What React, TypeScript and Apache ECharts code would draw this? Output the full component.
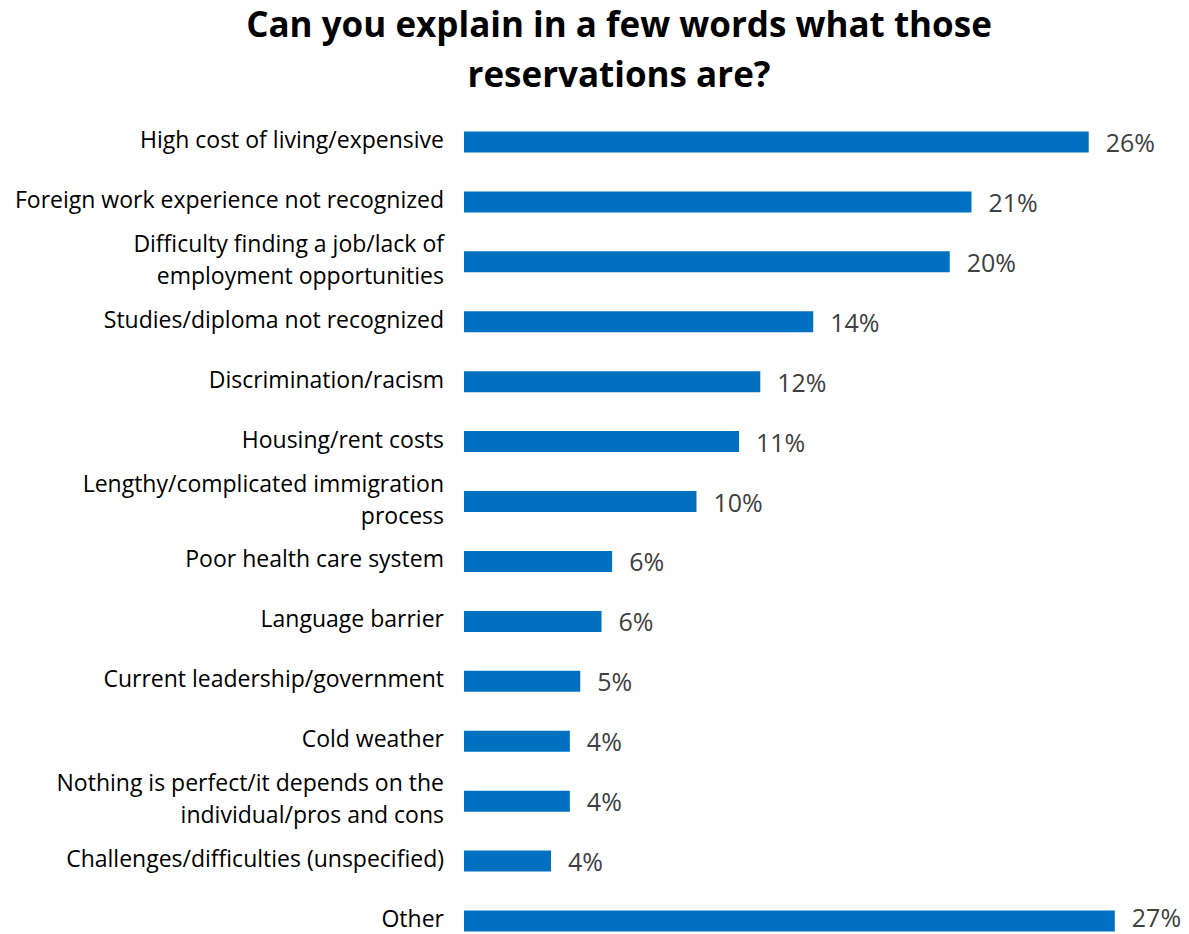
import React, { useEffect, useRef } from "react";
import * as echarts from "echarts";

const categories = [
  "High cost of living/expensive",
  "Foreign work experience not recognized",
  "Difficulty finding a job/lack of\nemployment opportunities",
  "Studies/diploma not recognized",
  "Discrimination/racism",
  "Housing/rent costs",
  "Lengthy/complicated immigration\nprocess",
  "Poor health care system",
  "Language barrier",
  "Current leadership/government",
  "Cold weather",
  "Nothing is perfect/it depends on the\nindividual/pros and cons",
  "Challenges/difficulties (unspecified)",
  "Other",
];

const values = [25.85, 21.0, 20.1, 14.45, 12.26, 11.38, 9.62, 6.13, 5.69, 4.81, 4.38, 4.38, 3.6, 26.93];

const titleLines = ["Can you explain in a few words what those", "reservations are?"];

export default function App() {
  const ref = useRef<HTMLDivElement>(null);
  useEffect(() => {
    if (!ref.current) return;
    const chart = echarts.init(ref.current, undefined, { renderer: "svg" });
    const barData = values.map((v, i) =>
      i === values.length - 1 ? { value: v, label: { offset: [0, -4] } } : v
    );
    chart.setOption({
      animation: false,
      backgroundColor: "#ffffff",
      title: {
        text: titleLines.join("\n"),
        left: 619,
        top: -2,
        textAlign: "center",
        padding: 0,
        textStyle: {
          fontFamily: "Open Sans",
          fontWeight: "bold",
          fontSize: 35,
          lineHeight: 50,
          color: "#000000",
        },
      },
      grid: {
        left: 464,
        top: 112,
        width: 727.5,
        height: 839,
      },
      xAxis: {
        type: "value",
        min: 0,
        max: 30,
        show: false,
      },
      yAxis: {
        type: "category",
        inverse: true,
        data: categories,
        axisLine: { show: false },
        axisTick: { show: false },
        axisLabel: {
          margin: 20,
          align: "right",
          formatter: (v: string) =>
            v
              .split("\n")
              .map((s) => "{t|" + s + "}")
              .join("\n"),
          rich: {
            t: {
              fontFamily: "Open Sans",
              fontSize: 23,
              lineHeight: 32,
              padding: [0, 0, 6, 0],
              color: "#000000",
            },
          },
        },
      },
      series: [
        {
          type: "bar",
          data: barData,
          barWidth: 21,
          itemStyle: { color: "#0070C0" },
          label: {
            show: true,
            position: "right",
            distance: 17,
            fontFamily: "Open Sans",
            fontSize: 25,
            lineHeight: 22,
            color: "#404040",
            formatter: (p: any) => Math.round(p.value) + "%",
          },
        },
      ],
    });
    return () => chart.dispose();
  }, []);
  return (
    <div
      ref={ref}
      style={{ position: "fixed", left: 0, top: 0, width: 1189, height: 960 }}
    />
  );
}
